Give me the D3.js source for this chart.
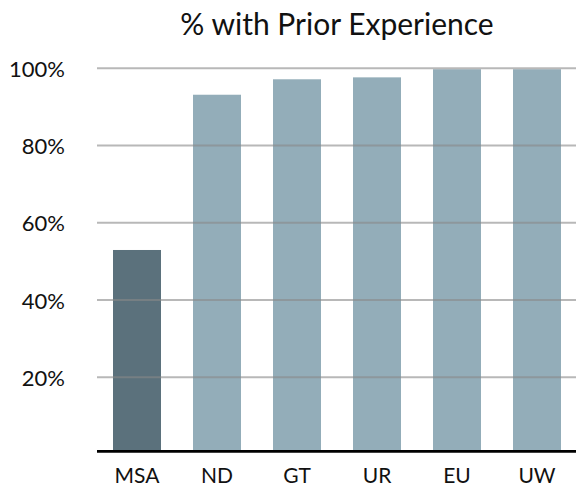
<!DOCTYPE html>
<html><head><meta charset="utf-8">
<script src="https://cdn.jsdelivr.net/npm/d3@7"></script>
<style>body{margin:0;background:#fff}svg{display:block}</style>
</head><body>
<svg id="c" width="576" height="489"></svg>
<script>
const categories = ["MSA","ND","GT","UR","EU","UW"];
const values = [52.8, 93, 97, 97.5, 99.6, 99.6];
const highlight = ["MSA"];
const tickValues = [20, 40, 60, 80, 100];
const title = "% with Prior Experience";

(function () {
const W = 576, H = 489;
const plotLeft = 97, plotRight = 577, plotTop = 67.7, plotZero = 453.9;
const font = "Lato, 'Open Sans', sans-serif";
const svg = d3.select("#c");

const x = d3.scaleBand().domain(categories).range([plotLeft, plotRight]).paddingInner(0.4).paddingOuter(0.2);
const y = d3.scaleLinear().domain([0, 100]).range([plotZero, plotTop]);
const axisY = plotZero - 2.6;

svg.append("text").attr("x", 337).attr("y", 35).attr("text-anchor", "middle")
  .attr("font-family", font).attr("font-size", 30).attr("fill", "#111").text(title);

svg.append("g").selectAll("rect").data(categories).join("rect")
  .attr("x", d => x(d)).attr("width", x.bandwidth())
  .attr("y", (d, i) => y(values[i]))
  .attr("height", (d, i) => axisY - y(values[i]))
  .attr("fill", d => highlight.includes(d) ? "#5b717c" : "#93adb9");

const ya = svg.append("g").attr("transform", `translate(${plotLeft},0)`)
  .call(d3.axisLeft(y).tickValues(tickValues).tickFormat(d => d + "%").tickSize(-(W - plotLeft)).tickPadding(32));
ya.select(".domain").remove();
ya.selectAll(".tick line").attr("stroke", "#888").attr("stroke-opacity", 0.6).attr("stroke-width", 2);
ya.selectAll(".tick text").attr("font-family", font).attr("font-size", 22).attr("fill", "#111").attr("dy", "0.4em");

svg.append("line").attr("x1", plotLeft).attr("x2", W).attr("y1", axisY).attr("y2", axisY)
  .attr("stroke", "#000").attr("stroke-width", 2.7);

const xa = svg.append("g").attr("transform", `translate(0,${axisY})`)
  .call(d3.axisBottom(x).tickSize(0).tickPadding(17));
xa.select(".domain").remove();
xa.selectAll(".tick text").attr("font-family", font).attr("font-size", 21).attr("fill", "#111");
})();
</script>
</body></html>
